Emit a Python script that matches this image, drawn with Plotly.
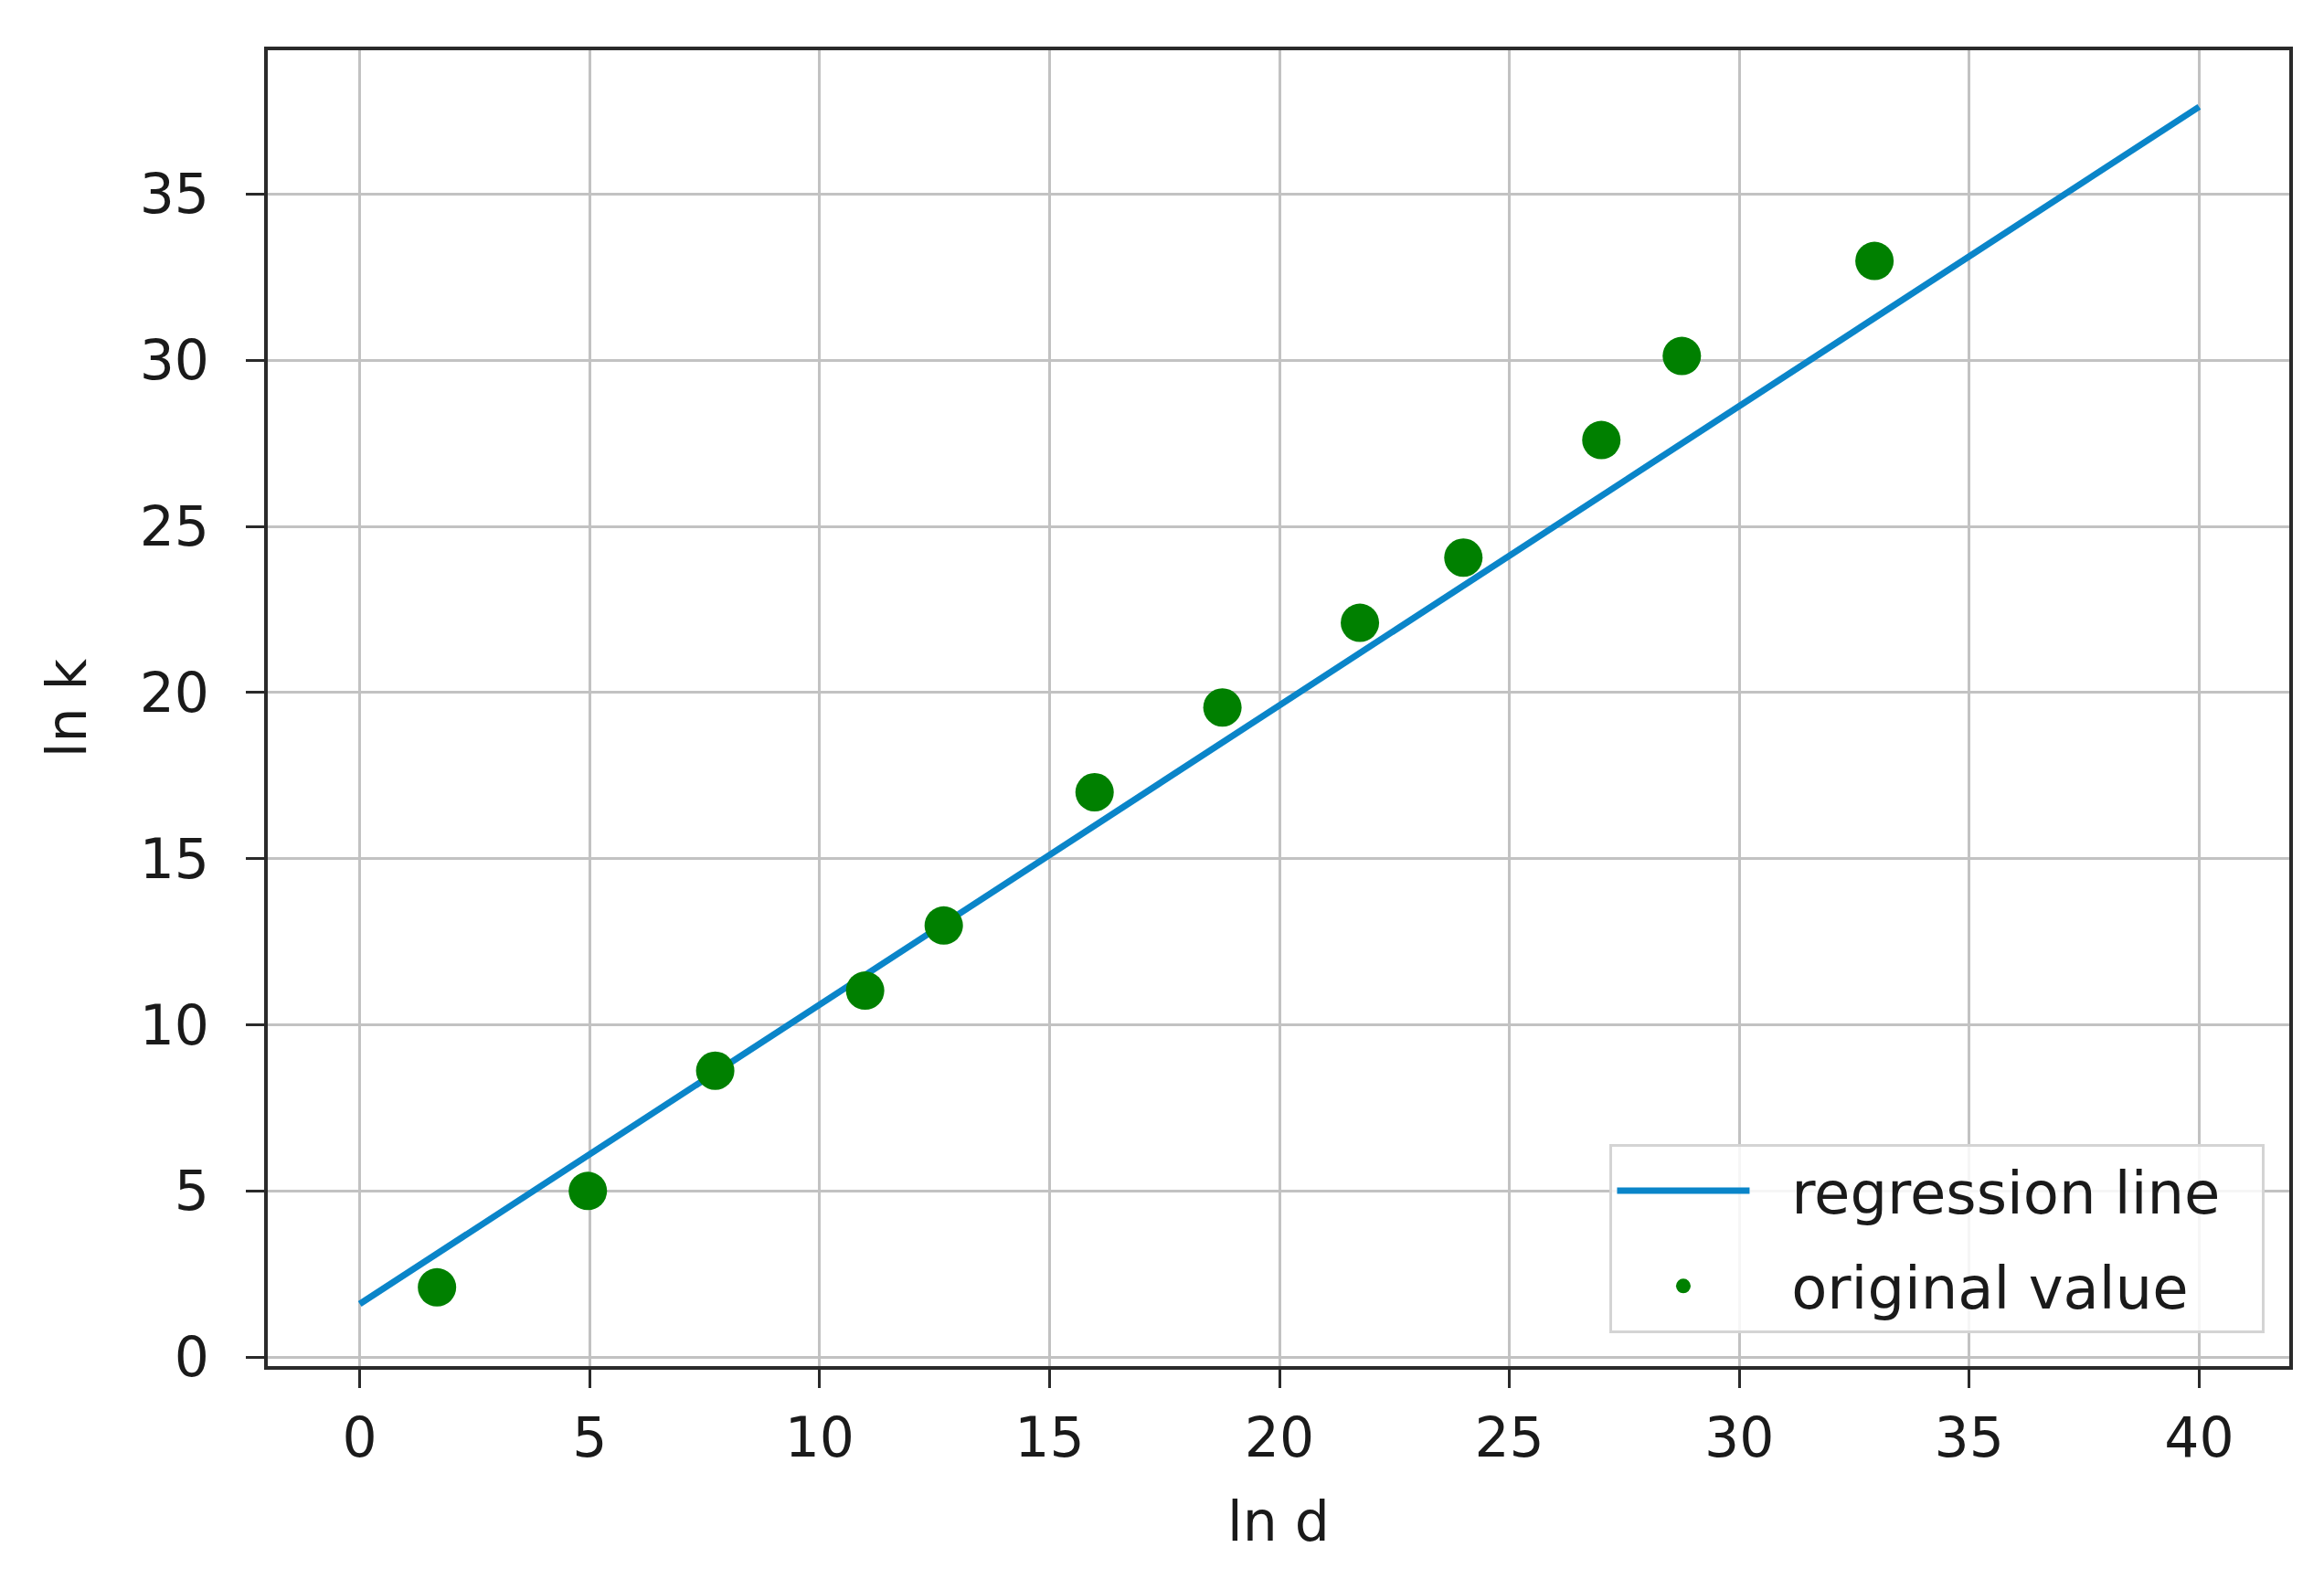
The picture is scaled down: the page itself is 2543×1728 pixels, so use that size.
import plotly.graph_objects as go

# Data
reg_x = [0, 40]
reg_y = [1.6, 37.63]

orig_x = [1.68, 4.96, 7.73, 10.99, 12.70, 15.98, 18.76, 21.75, 24.0, 27.0, 28.75, 32.94]
orig_y = [2.10, 5.0, 8.62, 11.03, 12.99, 17.0, 19.55, 22.1, 24.06, 27.6, 30.13, 32.99]

x_ticks = [0, 5, 10, 15, 20, 25, 30, 35, 40]
y_ticks = [0, 5, 10, 15, 20, 25, 30, 35]

series_names = ["regression line", "original value"]

FONT = "DejaVu Sans"
TXT = "#1a1a1a"
TICK_SIZE = 60
LEG_SIZE = 64
PAD = "\u00a0\u00a0"

fig = go.Figure()
fig.add_trace(go.Scatter(
    x=reg_x, y=reg_y, mode="lines", name=PAD + series_names[0] + PAD, legendgroup="a",
    line=dict(color="#0a85c9", width=7),
))
fig.add_trace(go.Scatter(
    x=orig_x, y=orig_y, mode="markers", name=PAD + series_names[1] + PAD, legendgroup="b",
    marker=dict(color="#008000", size=42, line=dict(width=0)),
))

axis_common = dict(
    showgrid=True, gridcolor="#c2c2c2", gridwidth=3,
    showline=True, linecolor="#2a2a2a", linewidth=4, mirror=True,
    ticks="outside", ticklen=20, tickwidth=3, tickcolor="#2a2a2a",
    tickfont=dict(family=FONT, size=TICK_SIZE, color=TXT),
    zeroline=False,
)

fig.update_layout(
    width=2543, height=1728,
    margin=dict(l=285, r=46, t=47, b=241),
    paper_bgcolor="white", plot_bgcolor="white",
    font=dict(family=FONT, color=TXT),
    xaxis=dict(range=[-2, 41.96], tickvals=x_ticks, ticklabelstandoff=3,
               title=dict(text="ln d", font=dict(family=FONT, size=TICK_SIZE, color=TXT), standoff=38),
               **axis_common),
    yaxis=dict(range=[-0.27, 39.33], tickvals=y_ticks, ticklabelstandoff=28,
               title=dict(text="ln k", font=dict(family=FONT, size=TICK_SIZE, color=TXT), standoff=40),
               **axis_common),
    legend=dict(
        x=0.988, y=0.025, xanchor="right", yanchor="bottom",
        bgcolor="rgba(255,255,255,0.85)", bordercolor="#d4d4d4", borderwidth=3,
        font=dict(family=FONT, size=LEG_SIZE, color=TXT),
        itemsizing="trace", tracegroupgap=18, itemwidth=145,
    ),
    showlegend=True,
)

fig.write_html("out.html")
